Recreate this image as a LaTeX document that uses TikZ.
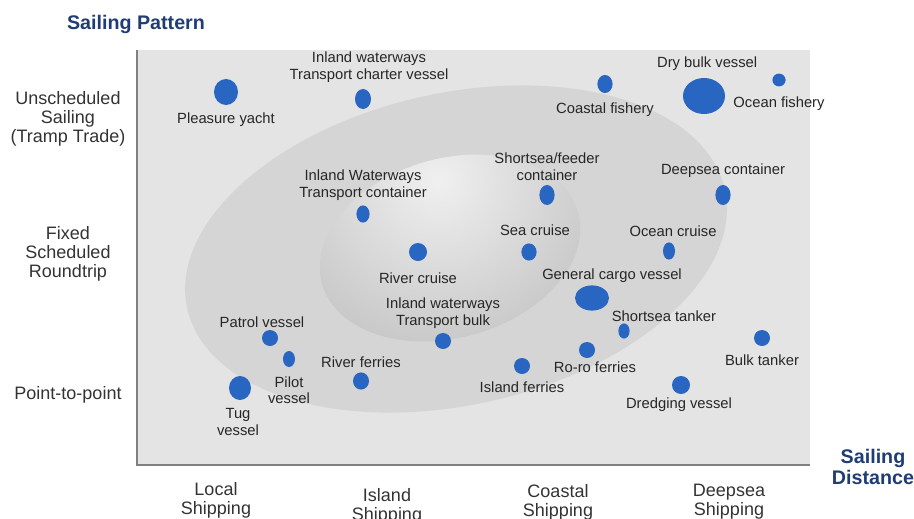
\documentclass[tikz,border=0pt]{standalone}
\usepackage{fontspec}
\setmainfont{Liberation Sans}
\usepackage{tikz}
\usetikzlibrary{shapes.geometric, positioning}

\definecolor{dotblue}{HTML}{2966C2}
\definecolor{navy}{HTML}{1F3C74}
\definecolor{plotgray}{HTML}{E4E4E4}
\definecolor{ringgray}{HTML}{D5D5D5}

\begin{document}
\begin{tikzpicture}[x=0.025cm,y=-0.025cm]
\tikzstyle{dot}=[ellipse,fill=dotblue,draw=none,inner sep=0pt]
\tikzstyle{lbl}=[align=center,text=black!85,inner sep=0pt,yshift=-0.05cm]
\tikzstyle{axislbl}=[align=center,text=black!80,inner sep=0pt,yshift=-0.05cm]
\tikzstyle{axistitle}=[align=center,text=navy,inner sep=0pt]
\tikzset{lbl/.append style={font=\fontsize{10.5pt}{12pt}\selectfont},
         axislbl/.append style={font=\fontsize{12.8pt}{13.6pt}\selectfont},
         axistitle/.append style={font=\bfseries\fontsize{14pt}{15pt}\selectfont}}

        \useasboundingbox (0,0) rectangle (914,519);

        % plot area and the two regions
        \fill[plotgray] (137,50) rectangle (810,465);
        \fill[ringgray] (456,249) ellipse [x radius=6.88cm, y radius=3.9cm, rotate=12.5];
        \begin{scope}
          \clip (450,248) ellipse [x radius=3.32cm, y radius=2.24cm, rotate=15.6];
          \shade[inner color=white!94!black, outer color=black!28] (438,180) circle (6cm);
        \end{scope}
        \draw[black!50, line width=1.4pt] (137,50) -- (137,465) -- (810,465);

        % axis texts
        \node[axistitle]        (pattern)   at (136,24)     {Sailing Pattern};
        \node[axistitle]        (distance)  at (873,467)    {Sailing\\Distance};
        \node[axislbl]          (tramp)     at (68,117)     {Unscheduled\\Sailing\\(Tramp Trade)};
        \node[axislbl]          (fixed)     at (68,252)     {Fixed\\Scheduled\\Roundtrip};
        \node[axislbl]          (ptp)       at (68,393)     {Point-to-point};
        \node[axislbl]          (local)     at (216,498)    {Local\\Shipping};
        \node[axislbl]          (island)    at (387,504)    {Island\\Shipping};
        \node[axislbl]          (coastal)   at (558,500)    {Coastal\\Shipping};
        \node[axislbl]          (deepsea)   at (729,500)    {Deepsea\\Shipping};

        % vessels
        \node[dot, minimum width=6mm, minimum height=6.5mm]     (yacht)     at (226,92)   {};
        \node[lbl, below of=yacht, node distance=0.65cm]        (pyacht)    {Pleasure yacht};

        \node[dot, minimum width=4mm, minimum height=5mm]       (charter)   at (363,99)   {};
        \node[lbl, above of=charter, node distance=0.85cm, xshift=0.15cm] (pcharter) {Inland waterways\\Transport charter vessel};

        \node[dot, minimum width=3.3mm, minimum height=4.3mm]   (iwcont)    at (363,214)  {};
        \node[lbl, above of=iwcont, node distance=0.78cm]       (piwcont)   {Inland Waterways\\Transport container};

        \node[dot, minimum width=4.5mm, minimum height=4.5mm]   (rcruise)   at (418,252)  {};
        \node[lbl, below of=rcruise, node distance=0.6cm]       (prcruise)  {River cruise};

        \node[dot, minimum width=3.8mm, minimum height=4.5mm]   (cfish)     at (605,84)   {};
        \node[lbl, below of=cfish, node distance=0.6cm]         (pcfish)    {Coastal fishery};

        \node[dot, minimum width=10.5mm, minimum height=9mm]    (drybulk)   at (704,96)   {};
        \node[lbl, above of=drybulk, node distance=0.85cm, xshift=0.08cm] (pdrybulk) {Dry bulk vessel};

        \node[dot, minimum width=3.3mm, minimum height=3.2mm]   (ofish)     at (779,80)   {};
        \node[lbl, below of=ofish, node distance=0.55cm]        (pofish)    {Ocean fishery};

        \node[dot, minimum width=3.8mm, minimum height=5mm]     (feeder)    at (547,195)  {};
        \node[lbl, above of=feeder, node distance=0.75cm]       (pfeeder)   {Shortsea/feeder\\container};

        \node[dot, minimum width=3.8mm, minimum height=5mm]     (dcont)     at (723,195)  {};
        \node[lbl, above of=dcont, node distance=0.65cm]        (pdcont)    {Deepsea container};

        \node[dot, minimum width=3.8mm, minimum height=4.3mm]   (scruise)   at (529,252)  {};
        \node[lbl, above of=scruise, node distance=0.6cm, xshift=0.15cm] (pscruise) {Sea cruise};

        \node[dot, minimum width=3mm, minimum height=4.3mm]     (ocruise)   at (669,251)  {};
        \node[lbl, above of=ocruise, node distance=0.55cm, xshift=0.1cm] (pocruise) {Ocean cruise};

        \node[dot, minimum width=8.5mm, minimum height=6.3mm]   (gcargo)    at (592,298)  {};
        \node[lbl, above of=gcargo, node distance=0.6cm, xshift=0.5cm] (pgcargo) {General cargo vessel};

        \node[dot, minimum width=2.8mm, minimum height=3.8mm]   (stanker)   at (624,331)  {};
        \node[lbl, above of=stanker, node distance=0.43cm, xshift=1cm] (pstanker) {Shortsea tanker};

        \node[dot, minimum width=4mm, minimum height=4mm]       (roro)      at (587,350)  {};
        \node[lbl, below of=roro, node distance=0.38cm, xshift=0.2cm] (proro) {Ro-ro ferries};

        \node[dot, minimum width=4mm, minimum height=4mm]       (iferry)    at (522,366)  {};
        \node[lbl, below of=iferry, node distance=0.48cm]       (piferry)   {Island ferries};

        \node[dot, minimum width=4mm, minimum height=4mm]       (btanker)   at (762,338)  {};
        \node[lbl, below of=btanker, node distance=0.5cm]       (pbtanker)  {Bulk tanker};

        \node[dot, minimum width=4.5mm, minimum height=4.5mm]   (dredge)    at (681,385)  {};
        \node[lbl, below of=dredge, node distance=0.45cm, xshift=-0.05cm] (pdredge) {Dredging vessel};

        \node[dot, minimum width=4mm, minimum height=4mm]       (iwbulk)    at (443,341)  {};
        \node[lbl, above of=iwbulk, node distance=0.75cm]       (piwbulk)   {Inland waterways\\Transport bulk};

        \node[dot, minimum width=4mm, minimum height=4mm]       (patrol)    at (270,338)  {};
        \node[lbl, above of=patrol, node distance=0.45cm, xshift=-0.2cm] (ppatrol) {Patrol vessel};

        \node[dot, minimum width=3mm, minimum height=4mm]       (pilot)     at (289,359)  {};
        \node[lbl, below of=pilot, node distance=0.73cm]        (ppilot)    {Pilot\\vessel};

        \node[dot, minimum width=5.5mm, minimum height=6mm]     (tug)       at (240,388)  {};
        \node[lbl, below of=tug, node distance=0.8cm, xshift=-0.05cm] (ptug) {Tug\\vessel};

        \node[dot, minimum width=4mm, minimum height=4.3mm]     (rferry)    at (361,381)  {};
        \node[lbl, above of=rferry, node distance=0.53cm]       (prferry)   {River ferries};

\end{tikzpicture}
\end{document}
